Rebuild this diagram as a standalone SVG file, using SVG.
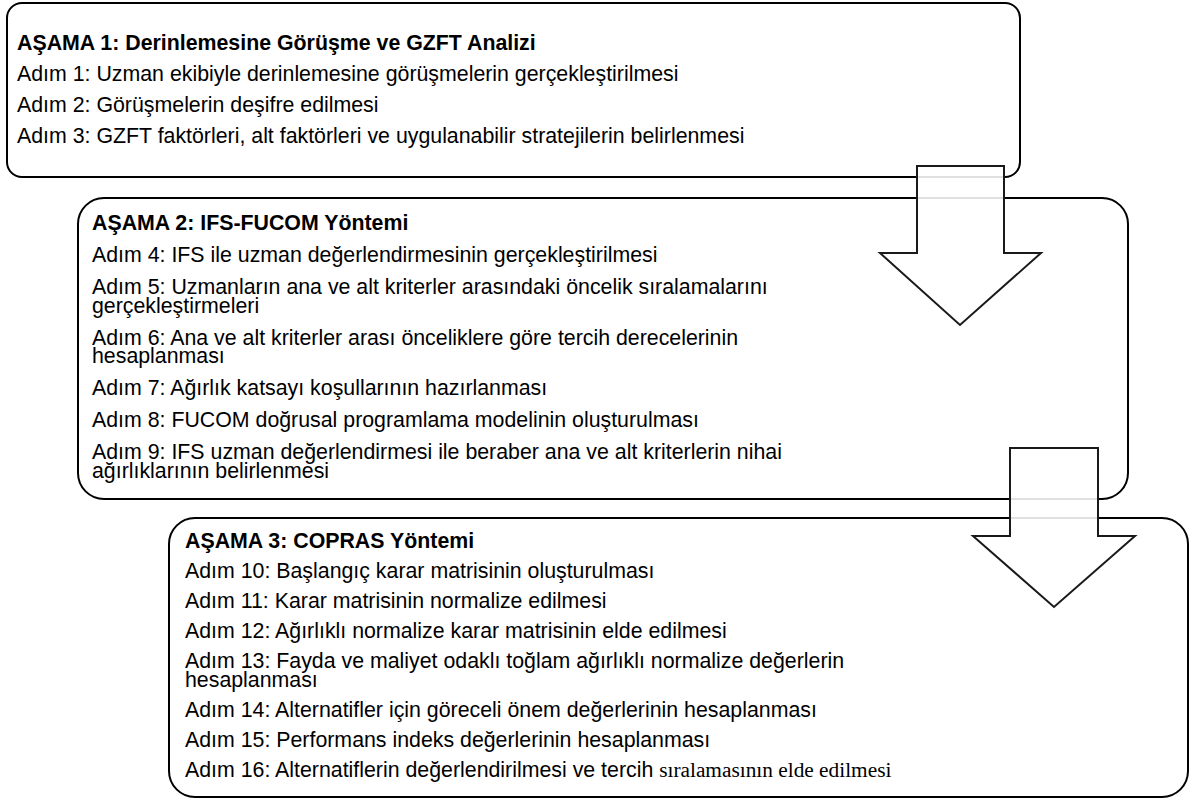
<svg xmlns="http://www.w3.org/2000/svg" width="1195" height="801" viewBox="0 0 1195 801">
<style>
.box{fill:#fff;stroke:#000;stroke-width:2}
.arr{fill:#fff;fill-opacity:0.88;stroke:#1a1a1a;stroke-width:2;stroke-linejoin:miter}
text{font-family:"Liberation Sans",Arial,sans-serif;font-size:21.33px;fill:#000}
.t{font-weight:bold}
.serif{font-family:"Liberation Serif","Times New Roman",serif}
</style>
<rect width="1195" height="801" fill="#fff"/>
<g id="stage1">
<rect class="box" x="7" y="3" width="1013" height="174" rx="15"/>
<text class="t" x="17" y="50">AŞAMA 1: Derinlemesine Görüşme ve GZFT Analizi</text>
<text x="17" y="81">Adım 1: Uzman ekibiyle derinlemesine görüşmelerin gerçekleştirilmesi</text>
<text x="17" y="112">Adım 2: Görüşmelerin deşifre edilmesi</text>
<text x="17" y="143">Adım 3: GZFT faktörleri, alt faktörleri ve uygulanabilir stratejilerin belirlenmesi</text>
</g>
<g id="stage2">
<rect class="box" x="78" y="198" width="1050" height="301" rx="26"/>
<text class="t" x="92" y="230">AŞAMA 2: IFS-FUCOM Yöntemi</text>
<text x="92" y="262">Adım 4: IFS ile uzman değerlendirmesinin gerçekleştirilmesi</text>
<text x="92" y="294">Adım 5: Uzmanların ana ve alt kriterler arasındaki öncelik sıralamalarını</text>
<text x="92" y="312.5">gerçekleştirmeleri</text>
<text x="92" y="344.5">Adım 6: Ana ve alt kriterler arası önceliklere göre tercih derecelerinin</text>
<text x="92" y="363">hesaplanması</text>
<text x="92" y="395">Adım 7: Ağırlık katsayı koşullarının hazırlanması</text>
<text x="92" y="427">Adım 8: FUCOM doğrusal programlama modelinin oluşturulması</text>
<text x="92" y="459">Adım 9: IFS uzman değerlendirmesi ile beraber ana ve alt kriterlerin nihai</text>
<text x="92" y="477.5">ağırlıklarının belirlenmesi</text>
</g>
<g id="stage3">
<rect class="box" x="169" y="518" width="1019" height="279" rx="26"/>
<text class="t" x="185" y="548">AŞAMA 3: COPRAS Yöntemi</text>
<text x="185" y="578">Adım 10: Başlangıç karar matrisinin oluşturulması</text>
<text x="185" y="608">Adım 11: Karar matrisinin normalize edilmesi</text>
<text x="185" y="638">Adım 12: Ağırlıklı normalize karar matrisinin elde edilmesi</text>
<text x="185" y="668">Adım 13: Fayda ve maliyet odaklı toğlam ağırlıklı normalize değerlerin</text>
<text x="185" y="686.5">hesaplanması</text>
<text x="185" y="716.5">Adım 14: Alternatifler için göreceli önem değerlerinin hesaplanması</text>
<text x="185" y="746.5">Adım 15: Performans indeks değerlerinin hesaplanması</text>
<text x="185" y="776.5">Adım 16: Alternatiflerin değerlendirilmesi ve tercih <tspan class="serif">sıralamasının elde edilmesi</tspan></text>
</g>
<g id="connectors">
<polygon class="arr" points="917,166 1004,166 1004,253 1041,253 960,325 880,253 917,253"/>
<polygon class="arr" points="1010,448 1098,448 1098,536 1135,536 1054,607 973,536 1010,536"/>
</g>
</svg>
